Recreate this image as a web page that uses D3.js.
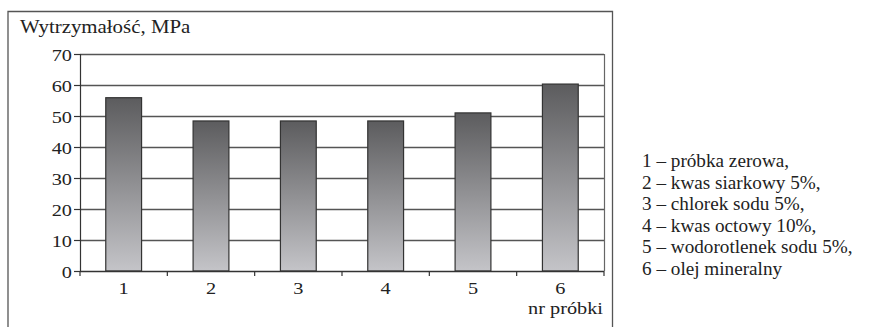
<!DOCTYPE html>
<html>
<head>
<meta charset="utf-8">
<script src="https://cdn.jsdelivr.net/npm/d3@7"></script>
<style>
  html, body { margin: 0; padding: 0; background: #fff; }
</style>
</head>
<body>
<svg id="chart" width="877" height="327"></svg>
<script>
// Sample numbers and their tensile strength (MPa)
const samples = ["1", "2", "3", "4", "5", "6"];
const strength = [55.9, 48.4, 48.4, 48.4, 51.0, 60.3];
const yTicks = [0, 10, 20, 30, 40, 50, 60, 70];
const legendLines = [
  "1 – próbka zerowa,",
  "2 – kwas siarkowy 5%,",
  "3 – chlorek sodu 5%,",
  "4 – kwas octowy 10%,",
  "5 – wodorotlenek sodu 5%,",
  "6 – olej mineralny"
];
const yTitle = "Wytrzymałość, MPa";
const xTitle = "nr próbki";

const SERIF = "'Liberation Serif'";
const STRETCH = 1.16;   // chart lettering is set slightly wide
const svg = d3.select("#chart");

// Place a text with its anchor at (x, y), widened horizontally
function wide(sel, x, y) {
  return sel.attr("x", 0).attr("y", 0)
    .attr("transform", (d, i) => {
      const xx = typeof x === "function" ? x(d, i) : x;
      const yy = typeof y === "function" ? y(d, i) : y;
      return `translate(${xx},${yy}) scale(${STRETCH},1)`;
    });
}

// Outer frame (open at the bottom)
svg.append("path")
  .attr("d", "M8,327 V11.5 H612.5 V327")
  .attr("fill", "none")
  .attr("stroke", "#555")
  .attr("stroke-width", 1.3);

const plot = { left: 80, right: 604, top: 54, bottom: 271 };

const x = d3.scaleBand()
  .domain(samples)
  .range([plot.left, plot.right])
  .paddingInner(0.59)
  .paddingOuter(0.295);

const y = d3.scaleLinear()
  .domain([0, 70])
  .range([plot.bottom, plot.top]);

// Bar gradient: dark at top, light at bottom
const defs = svg.append("defs");
const grad = defs.append("linearGradient")
  .attr("id", "barGrad")
  .attr("x1", 0).attr("y1", 0).attr("x2", 0).attr("y2", 1);
grad.append("stop").attr("offset", "0%").attr("stop-color", "#5c5c5e");
grad.append("stop").attr("offset", "100%").attr("stop-color", "#c4c4c8");

// Horizontal grid lines
svg.append("g")
  .selectAll("line")
  .data(yTicks.filter(d => d > 0))
  .join("line")
  .attr("x1", plot.left)
  .attr("x2", plot.right)
  .attr("y1", d => Math.round(y(d)) + 0.5)
  .attr("y2", d => Math.round(y(d)) + 0.5)
  .attr("stroke", "#555")
  .attr("stroke-width", 1.3);

// Right border of the plot area
svg.append("line")
  .attr("x1", plot.right + 0.5).attr("x2", plot.right + 0.5)
  .attr("y1", y(70)).attr("y2", y(0))
  .attr("stroke", "#666")
  .attr("stroke-width", 1.2);

// Bars
svg.append("g")
  .selectAll("rect")
  .data(samples.map((s, i) => ({ s, v: strength[i] })))
  .join("rect")
  .attr("x", d => x(d.s))
  .attr("y", d => y(d.v))
  .attr("width", x.bandwidth())
  .attr("height", d => y(0) - y(d.v))
  .attr("fill", "url(#barGrad)")
  .attr("stroke", "#333")
  .attr("stroke-width", 1.2);

// Y axis
const yAxis = d3.axisLeft(y)
  .tickValues(yTicks)
  .tickSize(6)
  .tickPadding(4)
  .tickFormat(d3.format("d"));
const gy = svg.append("g")
  .attr("transform", `translate(${plot.left},0)`)
  .call(yAxis);
gy.select(".domain").attr("stroke", "#333").attr("stroke-width", 1.2);
gy.selectAll(".tick line").attr("stroke", "#333").attr("stroke-width", 1.2);
gy.selectAll(".tick text")
  .attr("dy", null)
  .style("font-family", SERIF)
  .style("font-size", "17.5px")
  .attr("fill", "#222")
  .call(wide, -8, 6);

// X axis: baseline with ticks at category boundaries
const gx = svg.append("g");
gx.append("line")
  .attr("x1", plot.left).attr("x2", plot.right)
  .attr("y1", y(0) + 0.5).attr("y2", y(0) + 0.5)
  .attr("stroke", "#333").attr("stroke-width", 1.3);
const boundaries = d3.range(samples.length + 1).map(i => plot.left + i * (plot.right - plot.left) / samples.length);
gx.selectAll("line.tk")
  .data(boundaries)
  .join("line")
  .attr("class", "tk")
  .attr("x1", d => d).attr("x2", d => d)
  .attr("y1", y(0)).attr("y2", y(0) + 5)
  .attr("stroke", "#333").attr("stroke-width", 1.2);
gx.selectAll("text")
  .data(samples)
  .join("text")
  .attr("text-anchor", "middle")
  .style("font-family", SERIF)
  .style("font-size", "17.5px")
  .attr("fill", "#222")
  .text(d => d)
  .call(wide, d => x(d) + x.bandwidth() / 2, 294);

// Axis titles
svg.append("text")
  .style("font-family", SERIF)
  .style("font-size", "18px")
  .attr("fill", "#222")
  .text(yTitle)
  .call(wide, 20, 33);

svg.append("text")
  .attr("text-anchor", "end")
  .style("font-family", SERIF)
  .style("font-size", "17.5px")
  .attr("fill", "#222")
  .text(xTitle)
  .call(wide, plot.right - 1, 314);

// Legend describing each sample
svg.append("g")
  .selectAll("text")
  .data(legendLines)
  .join("text")
  .attr("x", 642)
  .attr("y", (d, i) => 167 + i * 21.6)
  .style("font-family", SERIF)
  .style("font-size", "19.2px")
  .attr("fill", "#222")
  .text(d => d);
</script>
</body>
</html>
